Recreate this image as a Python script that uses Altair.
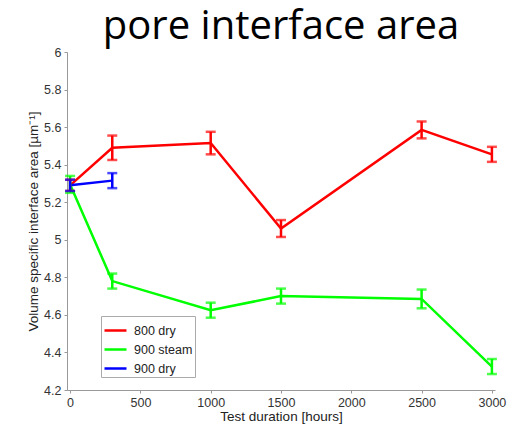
import altair as alt
import pandas as pd

hours = [0, 300, 1000, 1500, 2500, 3000]
dry800 = [5.29, 5.49, 5.515, 5.06, 5.585, 5.455]
dry800_err = [0.03, 0.065, 0.06, 0.045, 0.045, 0.04]
steam900 = [5.295, 4.78, 4.625, 4.70, 4.685, 4.325]
steam900_err = [0.045, 0.04, 0.04, 0.04, 0.05, 0.04]
dry900_hours = [0, 300]
dry900 = [5.29, 5.315]
dry900_err = [0.03, 0.04]

series_names = ["800 dry", "900 steam", "900 dry"]
series_colors = ["#ff0000", "#00ff00", "#0000ff"]
x_ticks = [0, 500, 1000, 1500, 2000, 2500, 3000]
y_ticks = [4.2, 4.4, 4.6, 4.8, 5.0, 5.2, 5.4, 5.6, 5.8, 6.0]

rows = []
for name, hs, vals, errs in [
    ("800 dry", hours, dry800, dry800_err),
    ("900 steam", hours, steam900, steam900_err),
    ("900 dry", dry900_hours, dry900, dry900_err),
]:
    for h, v, e in zip(hs, vals, errs):
        rows.append({"series": name, "hours": h, "value": v, "lo": v - e, "hi": v + e})
df = pd.DataFrame(rows)

xscale = alt.Scale(domain=[-22, 3022], nice=False, zero=False)
yscale = alt.Scale(domain=[4.2, 6.0], nice=False, zero=False)
cscale = alt.Scale(domain=series_names, range=series_colors)
color = alt.Color("series:N", scale=cscale, sort=series_names,
                  legend=alt.Legend(title=None, orient="none", legendX=34, legendY=264,
                                    symbolType="stroke", symbolSize=484, symbolStrokeWidth=2.5,
                                    labelFontSize=12.5, labelFont="Liberation Sans",
                                    labelColor="#222", rowPadding=-7, padding=2,
                                    labelOffset=6,
                                    strokeColor="#aaaaaa", fillColor="white",
                                    labelLimit=200))

common = dict(grid=False, tickSize=3, labelPadding=3, labelFontSize=12.5,
              labelFont="Liberation Sans", titleFont="Liberation Sans", titleFontSize=13.5,
              titleFontWeight="normal", labelColor="#333", titleColor="#222",
              domainColor="#999", tickColor="#999", labelOverlap=False,
              labelFlush=False, labelBound=False)
xaxis = alt.Axis(title="Test duration [hours]", values=x_ticks, format="d",
                 titlePadding=1, **common)
yaxis = alt.Axis(title="Volume specific interface area [µm⁻¹]", values=y_ticks, format="~g",
                 titlePadding=3, **common)

base = alt.Chart(df)

ex = alt.X("hours:Q", scale=xscale, axis=xaxis)
lines = base.mark_line(strokeWidth=2.5).encode(
    x=ex,
    y=alt.Y("value:Q", scale=yscale, axis=yaxis),
    color=color,
    detail="series:N",
    order="hours:Q",
)

ecolor = alt.Color("series:N", scale=cscale, legend=None)
bars = base.mark_rule(strokeWidth=2.5).encode(
    x=ex, y=alt.Y("lo:Q", scale=yscale, axis=yaxis), y2="hi:Q", color=ecolor)
caps_lo = base.mark_tick(orient="horizontal", size=10, thickness=2.5).encode(
    x=ex, y=alt.Y("lo:Q", scale=yscale, axis=yaxis), color=ecolor)
caps_hi = base.mark_tick(orient="horizontal", size=10, thickness=2.5).encode(
    x=ex, y=alt.Y("hi:Q", scale=yscale, axis=yaxis), color=ecolor)

chart = alt.layer(lines, bars, caps_lo, caps_hi).properties(
    width=428, height=338,
    title=alt.TitleParams("pore interface area", fontSize=40, font="Open Sans",
                          fontWeight="normal", color="#000", anchor="middle",
                          frame="group", baseline="alphabetic", offset=8, dy=41),
    autosize=alt.AutoSizeParams(type="none"),
    padding={"left": 67, "top": 52, "right": 25, "bottom": 44},
).configure(background="white").configure_view(stroke=None)

chart.save("out.html", embed_options={"renderer": "svg", "actions": False})
